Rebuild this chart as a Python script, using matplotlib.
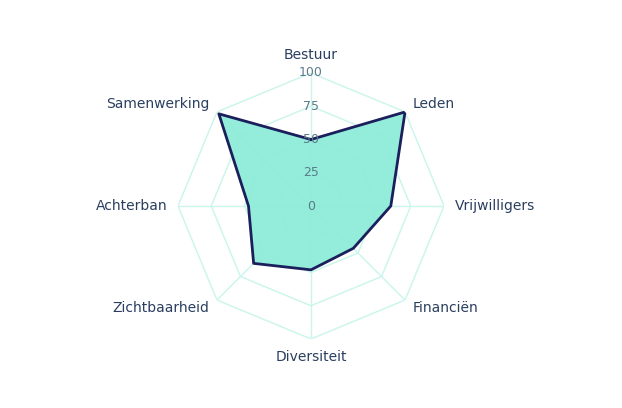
import matplotlib
matplotlib.use("Agg")
import matplotlib.pyplot as plt
import numpy as np

categories = ["Bestuur", "Leden", "Vrijwilligers", "Financiën", "Diversiteit",
              "Zichtbaarheid", "Achterban", "Samenwerking"]
values = [50, 100, 60, 45, 48, 61, 47, 98]
rticks = [0, 25, 50, 75, 100]

grid_c = "#c9f5ea"
text_c = "#2a3f5f"
n = len(categories)
theta = np.linspace(0, 2 * np.pi, n, endpoint=False)
tc = np.append(theta, theta[0])

fig = plt.figure(figsize=(6.22, 4.08), dpi=100)
ax = fig.add_axes([0.5 - 133 / 622 * 1.0, 0.5 - 133 / 408 + (204 - 206) / 408, 266 / 622, 266 / 408],
                  projection="polar")
ax.set_theta_offset(np.pi / 2)
ax.set_theta_direction(-1)
ax.set_ylim(0, 100)
ax.grid(False)
ax.spines["polar"].set_visible(False)
ax.set_xticks([])
ax.set_yticks([])

for r in rticks[1:]:
    ax.plot(tc, [r] * (n + 1), color=grid_c, lw=1, zorder=1)
for t in theta:
    ax.plot([t, t], [0, 100], color=grid_c, lw=1, zorder=1)

vc = values + values[:1]
ax.fill(tc, vc, color="#8eecd8", alpha=0.95, zorder=2)
ax.plot(tc, vc, color="#1b1f5c", lw=2, zorder=3)

for r in rticks:
    ax.text(0, r, str(r), color="#5a7a8a", fontsize=9, ha="center", va="center", zorder=4)

for t, c in zip(theta, categories):
    s, co = np.sin(t), np.cos(t)
    ha = "center" if abs(s) < 0.1 else ("left" if s > 0 else "right")
    va = "bottom" if co > 0.9 else ("top" if co < -0.9 else "center")
    ax.text(t, 108, c, color=text_c, fontsize=10, ha=ha, va=va)

fig.savefig("out.png", dpi=100, facecolor="white")
